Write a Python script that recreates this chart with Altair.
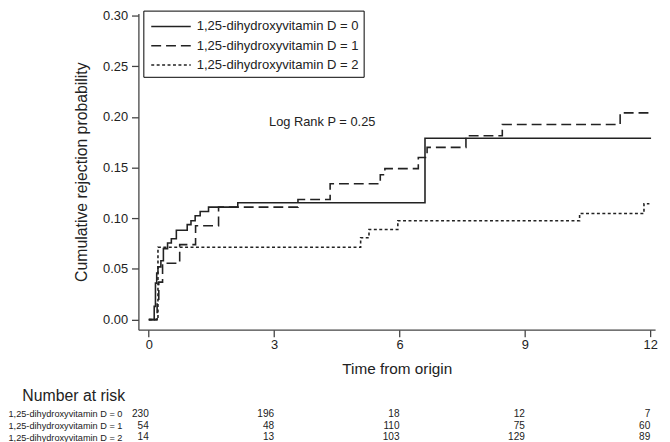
import altair as alt
import pandas as pd

# ---- data ----
groups = ["1,25-dihydroxyvitamin D = 0", "1,25-dihydroxyvitamin D = 1", "1,25-dihydroxyvitamin D = 2"]

t0 = [0, 0.13, 0.16, 0.19, 0.22, 0.29, 0.35, 0.45, 0.54, 0.66, 0.92, 1.01, 1.11, 1.23, 1.43, 2.13, 6.61, 12.02]
v0 = [0, 0.013, 0.036, 0.046, 0.052, 0.058, 0.070, 0.0756, 0.0798, 0.0882, 0.0937, 0.0976, 0.1024, 0.1066, 0.111, 0.1153, 0.179, 0.179]

t1 = [0, 0.20, 0.24, 0.33, 0.74, 1.12, 1.67, 3.57, 4.34, 5.54, 5.65, 6.45, 6.66, 7.59, 8.46, 11.28, 12.03]
v1 = [0, 0.0185, 0.037, 0.0556, 0.074, 0.0926, 0.111, 0.1186, 0.134, 0.143, 0.149, 0.160, 0.170, 0.1815, 0.1925, 0.204, 0.204]

t2 = [0, 0.22, 5.07, 5.27, 5.96, 10.31, 11.85, 11.98]
v2 = [0, 0.0714, 0.0808, 0.0889, 0.0976, 0.1047, 0.1144, 0.1144]

risk_times = [0, 3, 6, 9, 12]
risk0 = [230, 196, 18, 12, 7]
risk1 = [54, 48, 110, 75, 60]
risk2 = [14, 13, 103, 129, 89]

x_ticks = [0, 3, 6, 9, 12]
y_ticks = [0, 0.05, 0.10, 0.15, 0.20, 0.25, 0.30]

annot_text = "Log Rank P = 0.25"
annot_t, annot_v = 4.15, 0.1954

# ---- tables ----
curves = pd.concat([
    pd.DataFrame({"t": t0, "v": v0, "g": groups[0]}),
    pd.DataFrame({"t": t1, "v": v1, "g": groups[1]}),
    pd.DataFrame({"t": t2, "v": v2, "g": groups[2]}),
], ignore_index=True)

risk = pd.concat([
    pd.DataFrame({"t": risk_times, "n": risk0, "g": groups[0]}),
    pd.DataFrame({"t": risk_times, "n": risk1, "g": groups[1]}),
    pd.DataFrame({"t": risk_times, "n": risk2, "g": groups[2]}),
], ignore_index=True)

annot = pd.DataFrame({"t": [annot_t], "v": [annot_v], "txt": [annot_text]})

FONT = "Liberation Sans, Arial, sans-serif"
INK = "#222222"
AX = "#444444"

xscale = alt.Scale(domain=[-0.248, 12.116], nice=False, zero=False)
yscale = alt.Scale(domain=[-0.01, 0.302], nice=False, zero=False)

lines = alt.Chart(curves).mark_line(interpolate="step-after", strokeWidth=1.6, color=INK).encode(
    x=alt.X("t:Q", scale=xscale,
            axis=alt.Axis(values=x_ticks, title="Time from origin", grid=False,
                          tickSize=7, labelPadding=2, labelFontSize=13, titleFontSize=15.5,
                          titlePadding=10, titleFontWeight="normal")),
    y=alt.Y("v:Q", scale=yscale,
            axis=alt.Axis(values=y_ticks, format=".2f", title="Cumulative rejection probability",
                          grid=False, tickSize=7, labelPadding=4, labelFontSize=13,
                          titleFontSize=16, titlePadding=13, titleFontWeight="normal")),
    strokeDash=alt.StrokeDash("g:N",
        scale=alt.Scale(domain=groups, range=[[1, 0], [10, 5], [3, 2.5]]),
        legend=alt.Legend(title=None, orient="none", legendX=5, legendY=-3,
                          strokeColor="black", padding=5, symbolType="M-2,0L2,0",
                          symbolSize=400, symbolStrokeWidth=1.6, symbolStrokeColor=INK,
                          symbolFillColor="transparent",
                          labelFontSize=13.2, labelFont=FONT, labelColor=INK, labelOffset=15,
                          labelExpr="datum.label + '   '",
                          labelLimit=0, rowPadding=1.5, symbolOffset=12)),
    detail="g:N",
)

note = alt.Chart(annot).mark_text(fontSize=13, font=FONT, color=INK).encode(
    x=alt.X("t:Q", scale=xscale),
    y=alt.Y("v:Q", scale=yscale, axis=None),
    text="txt:N",
)

table = alt.Chart(risk).mark_text(fontSize=10.2, font=FONT, color=INK, align="right", baseline="middle").encode(
    x=alt.X("t:Q", scale=xscale),
    y=alt.Y("g:N", scale=alt.Scale(domain=groups, range=[405, 429], padding=0),
            axis=alt.Axis(orient="left", domain=False, ticks=False, labelAlign="left",
                          labelPadding=132, labelFontSize=9.3, labelFont=FONT, labelColor=INK,
                          labelBaseline="middle", labelLimit=0,
                          title="Number at risk", titleAngle=0, titleAlign="left",
                          titleBaseline="middle", titleX=-118, titleY=387,
                          titleFontSize=16, titleFontWeight="normal", titleFont=FONT,
                          titleColor=INK)),
    text="n:Q",
)

chart = alt.layer(lines, note, table).resolve_scale(y="independent").properties(
    width=523, height=320,
    autosize=alt.AutoSizeParams(type="none"),
    padding={"left": 132, "top": 3, "right": 7, "bottom": 111},
).configure_view(stroke=None).configure_axis(
    domainColor=AX, tickColor=AX, domainWidth=1.3, tickWidth=1.3,
    labelColor=INK, titleColor=INK, labelFont=FONT, titleFont=FONT,
).configure_text(font=FONT)

chart.save("out.html", embed_options={"renderer": "svg", "actions": False})
